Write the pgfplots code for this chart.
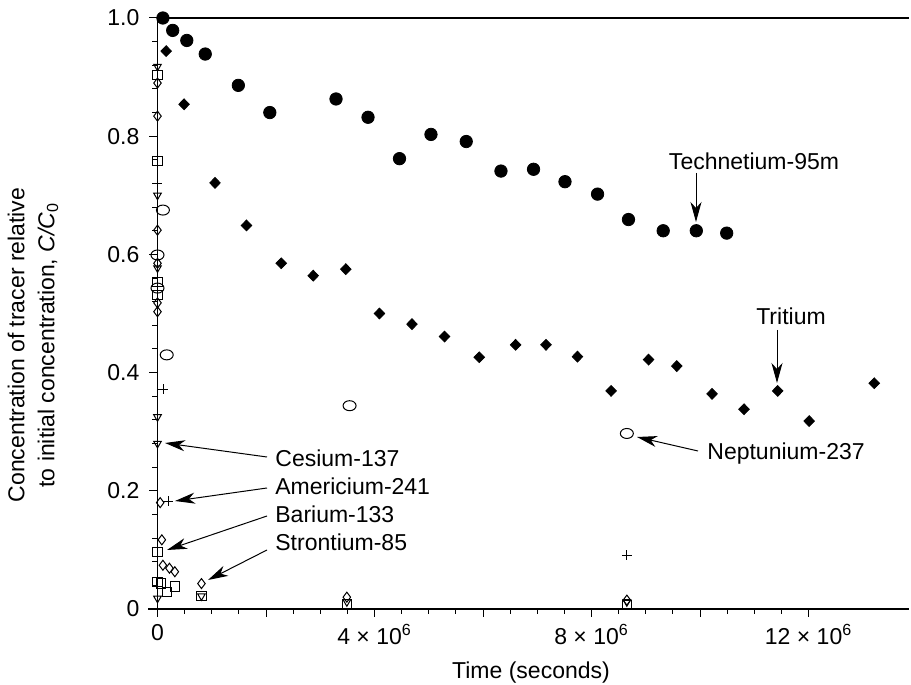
\documentclass[border=0pt]{standalone}
\usepackage{fontspec}
\setmainfont{Liberation Sans}
\usepackage{pgfplots}
\pgfplotsset{compat=1.18}
\usetikzlibrary{arrows.meta}

\begin{document}
\begin{tikzpicture}[font=\fontsize{11.5}{13.5}\selectfont,
  ann/.style={line width=0.5pt, -{Stealth[length=10pt,width=5.5pt,inset=3pt]}}]
\begin{axis}[
    at={(0,0)}, anchor=south west,
    scale only axis, width=375.75pt, height=295.5pt,
    xmin=0, xmax=13.85e6, ymin=0, ymax=1,
    axis lines=left,
    axis line style={-, line width=0.8pt},
    clip=false,
    scaled x ticks=false,
    tick label style={font=\fontsize{11.5}{13.5}\selectfont},
    yticklabel style={xshift=-1.5pt},
    xtick={0,2e6,4e6,6e6,8e6,10e6,12e6},
    xticklabels={0,,4 × 10\textsuperscript{6},,8 × 10\textsuperscript{6},,12 × 10\textsuperscript{6}},
    minor x tick num=3,
    ytick={0,0.2,0.4,0.6,0.8,1.0},
    yticklabels={0,0.2,0.4,0.6,0.8,1.0},
    minor y tick num=4,
    tick align=outside,
    major tick length=4pt, minor tick length=2.5pt,
    tick style={line width=0.5pt, black},
]
% Technetium-95m
\addplot[only marks, mark=*, mark size=3.1pt, black] coordinates {
  (0.1e6,1.0) (0.28e6,0.979) (0.54e6,0.962) (0.88e6,0.939) (1.49e6,0.886)
  (2.07e6,0.840) (3.29e6,0.863) (3.88e6,0.832) (4.46e6,0.762) (5.04e6,0.803)
  (5.69e6,0.791) (6.33e6,0.741) (6.93e6,0.744) (7.51e6,0.723) (8.11e6,0.702)
  (8.68e6,0.659) (9.32e6,0.640) (9.93e6,0.640) (10.49e6,0.636)
};
% Tritium
\addplot[only marks, mark=diamond*, mark size=2.7pt, black, mark options={xscale=1.3}] coordinates {
  (0.16e6,0.944) (0.49e6,0.854) (1.06e6,0.721) (1.64e6,0.649) (2.28e6,0.585)
  (2.87e6,0.564) (3.47e6,0.575) (4.09e6,0.500) (4.69e6,0.482) (5.29e6,0.461)
  (5.93e6,0.426) (6.60e6,0.447) (7.16e6,0.447) (7.74e6,0.427) (8.36e6,0.369)
  (9.05e6,0.422) (9.57e6,0.411) (10.22e6,0.364) (10.81e6,0.338) (11.43e6,0.369)
  (12.01e6,0.318) (13.21e6,0.382)
};
% Neptunium-237
\addplot[only marks, mark=o, mark size=2.5pt, black, mark options={xscale=1.3, line width=0.5pt}] coordinates {
  (0,0.599) (0,0.543) (0.1e6,0.675) (0.17e6,0.430) (3.54e6,0.344) (8.65e6,0.297)
};
% Cesium-137
\addplot[only marks, mark=triangle, mark size=2.2pt, black, mark options={rotate=180, line width=0.5pt}] coordinates {
  (0,0.918) (0,0.70) (0,0.577) (0,0.325) (0,0.280) (0,0.018)
  (0.81e6,0.022) (3.49e6,0.012) (8.65e6,0.012)
};
% Americium-241
\addplot[only marks, mark=+, mark size=2.5pt, black, mark options={line width=0.5pt}] coordinates {
  (0,0.72) (0.11e6,0.372) (0.2e6,0.182) (8.65e6,0.091)
};
% Barium-133
\addplot[only marks, mark=square, mark size=2.3pt, black, mark options={line width=0.5pt}] coordinates {
  (0,0.904) (0,0.758) (0,0.553) (0,0.531) (0,0.097) (0,0.046) (0.06e6,0.043)
  (0.17e6,0.029) (0.32e6,0.038) (0.81e6,0.022) (3.49e6,0.008) (8.65e6,0.007)
};
% Strontium-85
\addplot[only marks, mark=diamond, mark size=2.5pt, black, mark options={line width=0.5pt}] coordinates {
  (0,0.89) (0,0.834) (0,0.641) (0,0.585) (0,0.518) (0,0.503) (0.05e6,0.180)
  (0.08e6,0.117) (0.1e6,0.074) (0.22e6,0.069) (0.32e6,0.063) (0.81e6,0.043)
  (3.49e6,0.02) (8.65e6,0.015)
};
\draw[line width=0.6pt] (rel axis cs:0,1) -- (rel axis cs:1,1);
\end{axis}
\draw[line width=0.8pt] (-4.5pt,0) -- (0,0);

% axis titles
\node[anchor=base] at (186.75pt,-35pt) {Time (seconds)};
\node[rotate=90, align=center, font=\fontsize{11.5}{15}\selectfont] at (-62.25pt,132pt)
  {Concentration of tracer relative\\to initial concentration, \textit{C/C}\textsubscript{0}};

% annotations
\node at (298.25pt,224pt) {Technetium-95m};
\draw[ann] (269.25pt,218pt) -- (269.25pt,193.5pt);
\node at (316.75pt,146.5pt) {Tritium};
\draw[ann] (309.75pt,139.5pt) -- (309.75pt,113pt);
\node[anchor=west, inner sep=0pt] at (274.75pt,77.5pt) {Neptunium-237};
\draw[ann] (270.25pt,79pt) -- (239.75pt,86pt);
\node[anchor=west, inner sep=0pt] at (58.75pt,75.5pt) {Cesium-137};
\draw[ann] (54.75pt,76pt) -- (3.75pt,83pt);
\node[anchor=west, inner sep=0pt] at (58.75pt,61.5pt) {Americium-241};
\draw[ann] (54.75pt,60.5pt) -- (8.75pt,54pt);
\node[anchor=west, inner sep=0pt] at (58.75pt,47.5pt) {Barium-133};
\draw[ann] (54.75pt,46.5pt) -- (4.75pt,29.5pt);
\node[anchor=west, inner sep=0pt] at (58.75pt,33.5pt) {Strontium-85};
\draw[ann] (54.75pt,29.5pt) -- (25.25pt,14.5pt);

\pgfresetboundingbox
\path[use as bounding box] (-78.75pt,-38pt) rectangle (376.75pt,304.5pt);
\end{tikzpicture}
\end{document}
